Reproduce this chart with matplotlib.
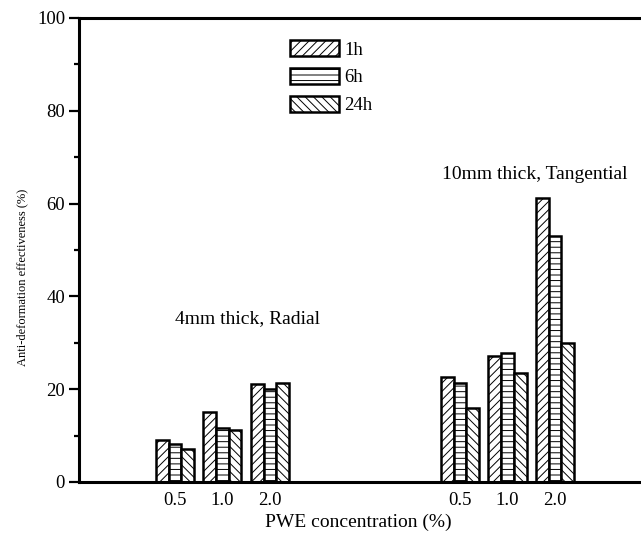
import numpy as np, matplotlib; matplotlib.use('Agg')
import matplotlib.pyplot as plt
from matplotlib.ticker import MultipleLocator

plt.rcParams['font.family'] = ['Liberation Serif', 'DejaVu Serif']
plt.rcParams['hatch.linewidth'] = 0.7

conc = ['0.5', '1.0', '2.0']
series = ['1h', '6h', '24h']
hatches = ['////', '---', '\\\\\\\\']
# 4mm thick, Radial
radial = {'1h': [9.0, 15.1, 21.1], '6h': [8.2, 11.7, 20.0], '24h': [7.1, 11.2, 21.4]}
# 10mm thick, Tangential
tang = {'1h': [22.6, 27.2, 61.1], '6h': [21.4, 27.9, 53.1], '24h': [16.0, 23.5, 30.0]}

pos_r = np.array([0, 1, 2]); pos_t = np.array([6, 7, 8])
w = 0.267

fig = plt.figure(figsize=(6.41, 5.36), dpi=100)
ax = fig.add_axes([79/641, 1-482/536, 1-79/641, (482-18)/536])
for k, s in enumerate(series):
    off = (k-1)*w
    ax.bar(pos_r+off, radial[s], w, color='white', edgecolor='black', lw=1.8, hatch=hatches[k], label=s)
    ax.bar(pos_t+off, tang[s], w, color='white', edgecolor='black', lw=1.8, hatch=hatches[k])

ax.set_xlim(-2.02, 9.81); ax.set_ylim(0, 100)
ax.set_xticks(np.concatenate([pos_r, pos_t])); ax.set_xticklabels(conc+conc, fontsize=13.5)
ax.tick_params(axis='x', length=0, pad=7)
ax.yaxis.set_major_locator(MultipleLocator(20)); ax.yaxis.set_minor_locator(MultipleLocator(10))
ax.tick_params(axis='y', which='major', length=7, width=1.6, labelsize=13.5, pad=3)
ax.tick_params(axis='y', which='minor', length=3.5, width=1.6)
for sp in ['left', 'bottom', 'top']: ax.spines[sp].set_linewidth(2.2)
ax.spines['right'].set_visible(False)

ax.text(1.52, 35.3, '4mm thick, Radial', ha='center', va='center', fontsize=14)
ax.text(7.58, 66.2, '10mm thick, Tangential', ha='center', va='center', fontsize=14)
fig.text(358/641, 1-522/536, 'PWE concentration (%)', ha='center', va='center', fontsize=14)
fig.text(22/641, 1-277/536, 'Anti-deformation effectiveness (%)', ha='center', va='center', rotation=90, fontsize=9)

fig.legend(loc='upper left', bbox_to_anchor=(290/641, 1-40/536), frameon=False, fontsize=13.5,
           handlelength=2.6, handleheight=0.95, labelspacing=0.5, handletextpad=0.3, borderpad=0, borderaxespad=0)
fig.savefig('out.png', dpi=100)
